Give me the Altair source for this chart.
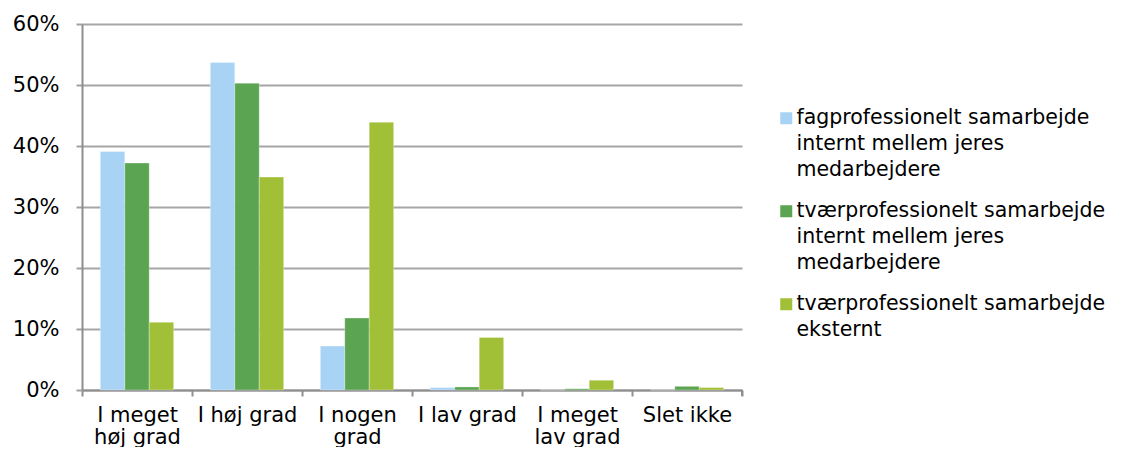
import altair as alt
import pandas as pd

categories = ["I meget\nhøj grad", "I høj grad", "I nogen\ngrad", "I lav grad", "I meget\nlav grad", "Slet ikke"]
series = [
    "fagprofessionelt samarbejde\ninternt mellem jeres\nmedarbejdere",
    "tværprofessionelt samarbejde\ninternt mellem jeres\nmedarbejdere",
    "tværprofessionelt samarbejde\neksternt",
]
fag_internt = [0.391, 0.537, 0.072, 0.004, 0.0, 0.0]
tvaer_internt = [0.372, 0.503, 0.118, 0.005, 0.002, 0.006]
tvaer_eksternt = [0.111, 0.349, 0.439, 0.086, 0.016, 0.004]
colors = ["#A9D3F5", "#5BA552", "#A2BF38"]
y_ticks = [0, 0.1, 0.2, 0.3, 0.4, 0.5, 0.6]

rows = []
for s, vals in zip(series, [fag_internt, tvaer_internt, tvaer_eksternt]):
    for c, v in zip(categories, vals):
        rows.append({"kategori": c, "serie": s, "andel": v})
df = pd.DataFrame(rows)

FONT = "DejaVu Sans"
FS = 21
LFS = 20.5

bars = alt.Chart(df).mark_bar(stroke="white", strokeWidth=0.5, strokeOpacity=0.6).encode(
    x=alt.X("kategori:N", sort=categories, title=None,
            scale=alt.Scale(paddingInner=0, paddingOuter=0),
            axis=alt.Axis(labelAngle=0, labelExpr="split(datum.label, '\\n')",
                          labelLineHeight=22, labelPadding=8, tickBand="extent",
                          tickSize=6, tickColor="#8E8E8E", tickWidth=2,
                          domainColor="#8E8E8E", domainWidth=2,
                          labelFont=FONT, labelFontSize=FS, labelColor="#000000")),
    xOffset=alt.XOffset("serie:N", sort=series,
                        scale=alt.Scale(paddingInner=0, paddingOuter=0.75)),
    y=alt.Y("andel:Q", title=None,
            scale=alt.Scale(domain=[0, 0.6], nice=False),
            axis=alt.Axis(format=".0%", values=y_ticks, tickSize=6, labelPadding=17,
                          tickColor="#A0A0A0", tickWidth=2,
                          gridColor="#A6A6A6", gridWidth=2,
                          domainColor="#8E8E8E", domainWidth=2,
                          labelFont=FONT, labelFontSize=FS, labelColor="#000000")),
    color=alt.Color("serie:N", sort=series, title=None,
                    scale=alt.Scale(domain=series, range=colors),
                    legend=alt.Legend(orient="none", legendX=694, legendY=90,
                                      labelExpr="split(datum.label, '\\n')",
                                      symbolType="M-1,-2H1V0H-1Z", symbolSize=144,
                                      symbolStrokeWidth=0, labelOffset=0,
                                      rowPadding=20, labelLimit=420,
                                      labelBaseline="alphabetic",
                                      labelFont=FONT, labelFontSize=LFS,
                                      labelColor="#000000")),
)

end_tick = alt.Chart(df).mark_rule(color="#8E8E8E", strokeWidth=2).encode(
    x=alt.value(660), y=alt.value(366), y2=alt.value(372)
)

chart = alt.layer(bars, end_tick).properties(
    width=660, height=366,
    autosize=alt.AutoSizeParams(type="none"),
    padding={"left": 74, "top": 16, "right": 371, "bottom": 57},
).configure(
    style={"guide-label": {"lineHeight": 26}}
).configure_view(strokeWidth=0)

chart.save("out.html", embed_options={"renderer": "svg", "actions": False})
